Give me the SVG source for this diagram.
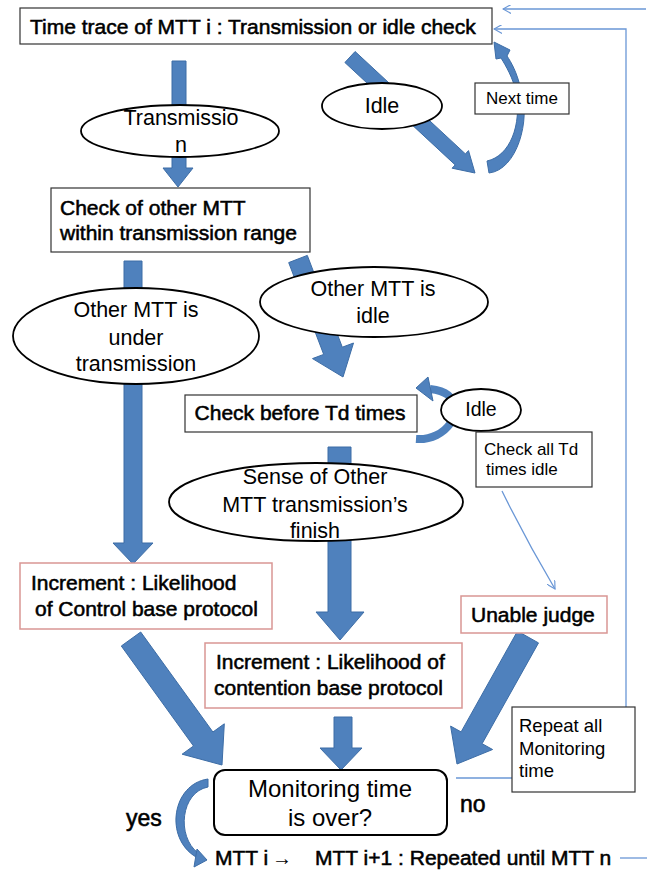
<svg xmlns="http://www.w3.org/2000/svg" width="647" height="871" viewBox="0 0 647 871">
<defs>
<marker id="open" viewBox="0 0 10 10" refX="9" refY="5" markerWidth="9" markerHeight="9" markerUnits="userSpaceOnUse" orient="auto">
<path d="M0,0 L9,5 L0,10" fill="none" stroke="#6a97d6" stroke-width="1.3"/>
</marker>
<style>
.blk{fill:#4f81bd;stroke:#3d6da6;stroke-width:1}
.thin{fill:none;stroke:#6a97d6;stroke-width:1.3}
.box{fill:#fff;stroke:#333;stroke-width:1.2}
.rbox{fill:#fff;stroke:#d99694;stroke-width:1.5}
.ell{fill:#fff;stroke:#000;stroke-width:1.8}
.b{font-family:"Liberation Sans",Arial,sans-serif;font-size:21px;fill:#000;stroke:#000;stroke-width:0.55}
.r{font-family:"Liberation Sans",Arial,sans-serif;font-size:21.5px;fill:#000}
.s{font-family:"Liberation Sans",Arial,sans-serif;font-size:17px;fill:#000}
.m{text-anchor:middle}
</style>
</defs>

<g id="connectors">
<polygon class="blk" points="172,61 186,61 186,168 193,168 178,187 163,168 172,168"/>
<polygon class="blk" points="355.1,51.5 465.4,153.9 468.5,150.6 475,173 452.1,168.2 455.2,164.9 344.9,62.5"/>
<path class="blk" d="M489,173 C517,170 531,120 521,90 C517,72 511,62 507,56 L510,50 L494,42 L496,59 L501,58 C506,66 513,78 516,92 C522,125 510,156 487,161 Z"/>
<polygon class="blk" points="124,261 142,261 142,543 153,543 133,564 113,543 124,543"/>
<polygon class="blk" points="307.3,255.4 342.3,347.2 353.5,343 343,377 312.5,358.6 323.7,354.4 288.7,262.6"/>
<path d="M416,439 C447,441 466,410 448,395 C443,391 438,390 430,389" fill="none" stroke="#4f81bd" stroke-width="8"/>
<polygon class="blk" points="416,388 428,377 433,401"/>
<polygon class="blk" points="328,447 351,447 351,612 364,612 340,640 316,612 328,612"/>
<path class="thin" d="M502,491 Q526,540 555,589" marker-end="url(#open)"/>
<polygon class="blk" points="140.7,632 212.9,732 224.3,723.8 222,765 182.1,754.2 193.5,746 121.3,646"/>
<polygon class="blk" points="334,717 352,717 352,748 362,748 341,770 320,748 334,748"/>
<polygon class="blk" points="517.5,631.1 538.5,642.9 482.1,743.7 492.6,749.5 457,764 450.6,726.1 461.1,731.9"/>
<path class="blk" d="M208,779 C172,784 164,838 196,857 L198,853 C176,836 181,792 208,787 Z"/>
<polygon class="blk" points="207,860 197,849 194,867"/>
<polyline class="thin" points="646,9 503,9" marker-end="url(#open)"/>
<polyline class="thin" points="626,707 626,29 494,29" marker-end="url(#open)"/>
<line class="thin" x1="456" y1="778" x2="512" y2="778"/>
<line class="thin" x1="620" y1="858" x2="647" y2="858"/>
</g>

<g id="n-timetrace">
<rect class="box" x="20" y="8" width="472" height="36"/>
<text class="b" x="30" y="34">Time trace of MTT i : Transmission or idle check</text>
</g>
<g id="n-transmission">
<ellipse class="ell" cx="180" cy="131" rx="99" ry="26"/>
<text class="r m" x="181" y="125">Transmissio</text>
<text class="r m" x="181" y="152">n</text>
</g>
<g id="n-idle1">
<ellipse class="ell" cx="382" cy="106" rx="60" ry="23"/>
<text class="r m" x="382" y="113">Idle</text>
</g>
<g id="n-nexttime">
<rect class="box" x="475" y="83" width="94" height="31"/>
<text class="s m" x="522" y="104">Next time</text>
</g>
<g id="n-checkother">
<rect class="box" x="51" y="188" width="259" height="64"/>
<text class="b" x="60" y="215">Check of other MTT</text>
<text class="b" x="60" y="240">within transmission range</text>
</g>
<g id="n-undertx">
<ellipse class="ell" cx="136" cy="336" rx="123" ry="48"/>
<text class="r m" x="136" y="317">Other MTT is</text>
<text class="r m" x="136" y="345">under</text>
<text class="r m" x="136" y="371">transmission</text>
</g>
<g id="n-otheridle">
<ellipse class="ell" cx="374" cy="302" rx="114" ry="35"/>
<text class="r m" x="373" y="296">Other MTT is</text>
<text class="r m" x="373" y="323">idle</text>
</g>
<g id="n-checkbefore">
<rect class="box" x="185" y="395" width="232" height="37"/>
<text class="b m" x="300" y="420">Check before Td times</text>
</g>
<g id="n-idle2">
<ellipse class="ell" cx="481" cy="410" rx="40" ry="21"/>
<text class="r m" x="481" y="416" style="font-size:19.5px">Idle</text>
</g>
<g id="n-checkall">
<rect class="box" x="476" y="432" width="116" height="55"/>
<text class="s" x="484" y="455">Check all Td</text>
<text class="s" x="486" y="475">times idle</text>
</g>
<g id="n-sense">
<ellipse class="ell" cx="316" cy="502" rx="147" ry="39"/>
<text class="r m" x="315" y="484">Sense of Other</text>
<text class="r m" x="315" y="512">MTT transmission’s</text>
<text class="r m" x="315" y="538">finish</text>
</g>
<g id="n-control">
<rect class="rbox" x="20" y="563" width="252" height="66"/>
<text class="b" x="31" y="590">Increment : Likelihood</text>
<text class="b" x="35" y="616">of Control base protocol</text>
</g>
<g id="n-unable">
<rect class="rbox" x="461" y="596" width="146" height="37"/>
<text class="b" x="471" y="622">Unable judge</text>
</g>
<g id="n-contention">
<rect class="rbox" x="205" y="643" width="257" height="65"/>
<text class="b" x="216" y="669">Increment : Likelihood of</text>
<text class="b" x="214" y="695">contention base protocol</text>
</g>
<g id="n-repeat">
<rect class="box" x="512" y="707" width="123" height="85"/>
<text class="s" x="519" y="732" style="font-size:18.5px">Repeat all</text>
<text class="s" x="519" y="755" style="font-size:18.5px">Monitoring</text>
<text class="s" x="519" y="777" style="font-size:18.5px">time</text>
</g>
<g id="n-monitoring">
<rect x="214" y="770" width="233" height="65" rx="11" ry="11" fill="#fff" stroke="#000" stroke-width="2"/>
<text class="r m" x="330" y="797" style="font-size:24px">Monitoring time</text>
<text class="r m" x="330" y="826" style="font-size:24px">is over?</text>
</g>
<g id="labels">
<text class="b" x="460" y="812" style="font-size:23px">no</text>
<text class="b" x="126" y="826" style="font-size:23px">yes</text>
</g>
<g id="n-next">
<text class="b" y="865"><tspan x="215">MTT i</tspan><tspan x="272" style="font-size:20px;stroke-width:0">→</tspan><tspan x="315">MTT i+1 : Repeated until MTT n</tspan></text>
</g>
</svg>
